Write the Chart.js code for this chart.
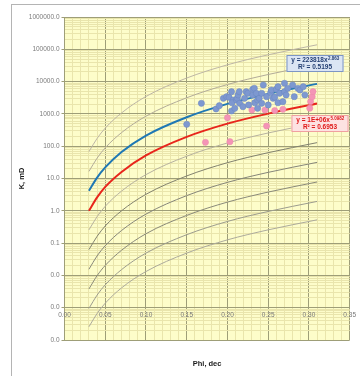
<!DOCTYPE html>
<html>
<head>
<meta charset="utf-8">
<script src="https://cdn.jsdelivr.net/npm/chart.js@4.4.1/dist/chart.umd.min.js"></script>
<style>
  body { margin: 0; background: #fff; }
  #wrap { position: relative; width: 360px; height: 376px; }
  #frame { position: absolute; left: 11px; top: 4px; width: 349px; height: 372px;
           border-left: 1px solid #b4b4b4; border-top: 1px solid #b4b4b4; pointer-events: none; }
</style>
</head>
<body>
<div id="wrap">
  <canvas id="kphi" width="360" height="376"></canvas>
  <div id="frame"></div>
</div>
<script>
// axis ticks
var kMajorTicks = [0.0001, 0.001, 0.01, 0.1, 1, 10, 100, 1000, 10000, 100000, 1000000];
var phiMajorTicks = [0, 0.05, 0.10, 0.15, 0.20, 0.25, 0.30, 0.35];

// curve family, read at these porosities
var phiCurve = [0.03, 0.04, 0.05, 0.07, 0.10, 0.15, 0.20, 0.25, 0.31];
var kCurveBlue = [4.2, 10.7, 22, 66, 214, 790, 2040, 4170, 8500];
var kCurveRed = [1.0, 2.6, 5.5, 16, 52, 195, 500, 1020, 2090];
var kCurveGray1 = [68, 174, 363, 1070, 3470, 12900, 33100, 67600, 138000];
var kCurveGray2 = [16.6, 42.7, 89, 263, 851, 3160, 8130, 16600, 33900];
var kCurveGray3 = [0.257, 0.66, 1.38, 4.07, 13.2, 49, 126, 257, 525];
var kCurveGray4 = [0.063, 0.162, 0.339, 1.0, 3.24, 12.0, 30.9, 63, 129];
var kCurveGray5 = [0.0155, 0.040, 0.083, 0.245, 0.79, 2.95, 7.6, 15.5, 31.6];
var kCurveGray6 = [0.0038, 0.0098, 0.0204, 0.060, 0.195, 0.72, 1.86, 3.8, 7.8];
var kCurveGray7 = [0.00095, 0.00245, 0.0051, 0.0151, 0.049, 0.182, 0.468, 0.955, 1.95];
var kCurveGray8 = [0.000257, 0.00066, 0.00138, 0.0041, 0.0132, 0.049, 0.126, 0.257, 0.525];

// samples
var phiBlue = [0.150, 0.168, 0.186, 0.190, 0.195, 0.199, 0.202, 0.205, 0.205, 0.207,
               0.2055, 0.209, 0.211, 0.212, 0.213, 0.2145, 0.215, 0.219, 0.221, 0.223,
               0.225, 0.226, 0.231, 0.231, 0.233, 0.2335, 0.2355, 0.237, 0.237, 0.239,
               0.242, 0.242, 0.244, 0.248, 0.250, 0.253, 0.254, 0.256, 0.258, 0.260,
               0.262, 0.262, 0.264, 0.268, 0.270, 0.272, 0.274, 0.280, 0.282, 0.2865,
               0.289, 0.293, 0.295, 0.270];
var kBlue = [476, 2130, 1420, 1800, 3040, 3410, 3270, 4860, 1230, 2690,
             2220, 1490, 2690, 3040, 3850, 4860, 2130, 1670, 3040, 4860,
             4350, 1890, 3850, 5780, 6210, 2220, 4350, 2690, 1490, 3040,
             4350, 2130, 7850, 3410, 1890, 4530, 5500, 3040, 3300, 5780,
             6950, 2220, 4350, 2390, 4860, 3850, 6210, 7850, 3410, 6210,
             5500, 6950, 3850, 8900];
var phiPink = [0.173, 0.203, 0.200, 0.230, 0.246, 0.258, 0.268, 0.248,
               0.301, 0.302, 0.304, 0.305];
var kPink = [132, 138, 762, 1320, 1320, 1270, 1390, 422,
             1500, 2400, 3400, 4900];

function pts(xs, ys) {
    return xs.map(function (x, i) { return {x: x, y: ys[i]}; });
}
function isDecade(v) {
    var l = Math.log10(v);
    return Math.abs(l - Math.round(l)) < 1e-6;
}
function isPhiMajor(v) {
    return Math.round(v * 100) % 5 === 0;
}

function curve(ys, color, width, order) {
    return {
        data: pts(phiCurve, ys),
        showLine: true,
        borderColor: color,
        borderWidth: width,
        pointRadius: 0,
        cubicInterpolationMode: 'monotone',
        order: order
    };
}

var plotBackground = {
    id: 'plotBackground',
    beforeDraw: function (chart) {
        var a = chart.chartArea, ctx = chart.ctx;
        ctx.save();
        ctx.fillStyle = '#fdfdca';
        ctx.fillRect(a.left, a.top, a.right - a.left, a.bottom - a.top);
        ctx.restore();
    }
};

function drawEq(ctx, left, top, w, h, base, sup, r2, fill, stroke, color) {
    ctx.save();
    ctx.fillStyle = fill;
    ctx.strokeStyle = stroke;
    ctx.lineWidth = 1;
    ctx.fillRect(left, top, w, h);
    ctx.strokeRect(left + 0.5, top + 0.5, w - 1, h - 1);
    ctx.fillStyle = color;
    ctx.textBaseline = 'middle';
    var big = 'bold 6.5px "Liberation Sans", Arial, sans-serif';
    var small = 'bold 4.5px "Liberation Sans", Arial, sans-serif';
    ctx.font = big;
    var wb = ctx.measureText(base).width;
    ctx.font = small;
    var ws = ctx.measureText(sup).width;
    var x0 = left + (w - wb - ws) / 2;
    ctx.font = big;
    ctx.textAlign = 'left';
    ctx.fillText(base, x0, top + 5.5);
    ctx.font = small;
    ctx.fillText(sup, x0 + wb + 0.5, top + 3.5);
    ctx.font = big;
    ctx.textAlign = 'center';
    ctx.fillText(r2, left + w / 2, top + 12.3);
    ctx.restore();
}

var equationBoxes = {
    id: 'equationBoxes',
    afterDatasetsDraw: function (chart) {
        var a = chart.chartArea, ctx = chart.ctx;
        drawEq(ctx, a.left + 222, a.top + 38, 57, 17, 'y = 223818x', '2.863', 'R\u00b2 = 0.5195',
               '#dbe5f4', '#7d96c4', '#243f73');
        drawEq(ctx, a.left + 227, a.top + 98, 57, 17, 'y = 1E+06x', '5.0982', 'R\u00b2 = 0.6953',
               '#fde2e2', '#f0a0a0', '#e01818');
    }
};

Chart.defaults.font.family = '"Liberation Sans", Arial, sans-serif';

new Chart(document.getElementById('kphi'), {
    type: 'scatter',
    data: {
        datasets: [
            {
                data: pts(phiBlue, kBlue),
                pointRadius: 3.1,
                backgroundColor: '#7d98d0',
                borderColor: '#6a86c0',
                borderWidth: 0.5,
                order: 0
            },
            {
                data: pts(phiPink, kPink),
                pointRadius: 3.1,
                backgroundColor: '#f494b6',
                borderColor: '#ec86aa',
                borderWidth: 0.5,
                order: 0
            },
            curve(kCurveBlue, '#1f78b4', 2, 1),
            curve(kCurveRed, '#e8261c', 2, 1),
            curve(kCurveGray1, '#bdb6a6', 1, 2),
            curve(kCurveGray2, '#b2ab99', 1, 2),
            curve(kCurveGray3, '#b6b19f', 1, 2),
            curve(kCurveGray4, '#82826f', 1, 2),
            curve(kCurveGray5, '#86867a', 1, 2),
            curve(kCurveGray6, '#8a8a7a', 1, 2),
            curve(kCurveGray7, '#9c9c8e', 1, 2),
            curve(kCurveGray8, '#acaa9c', 1, 2)
        ]
    },
    options: {
        responsive: false,
        animation: false,
        layout: { padding: { top: 17, right: 10, bottom: 0, left: 0 } },
        plugins: {
            legend: { display: false },
            tooltip: { enabled: false }
        },
        scales: {
            x: {
                type: 'linear',
                position: { y: 0.001 },
                min: 0,
                max: 0.35,
                afterBuildTicks: function (scale) {
                    var t = [];
                    for (var i = 0; i <= 35; i++) t.push({ value: i / 100 });
                    scale.ticks = t;
                },
                ticks: {
                    autoSkip: false,
                    maxRotation: 0,
                    padding: 4,
                    color: '#7a7a7a',
                    font: { size: 6.5 },
                    callback: function (v) {
                        return isPhiMajor(v) && phiMajorTicks.indexOf(Math.round(v * 100) / 100) >= 0 ? v.toFixed(2) : '';
                    }
                },
                grid: {
                    drawTicks: false,
                    color: function (c) { return isPhiMajor(c.tick.value) ? '#9e9e78' : '#e9e5ac'; }
                },
                border: { display: false }
            },
            xb: {
                type: 'linear',
                position: 'bottom',
                min: 0,
                max: 0.35,
                afterFit: function (scale) { scale.height = 36; },
                ticks: { display: false },
                grid: { display: false, drawTicks: false },
                border: { display: false },
                title: {
                    display: true,
                    text: 'Phi, dec',
                    color: '#1a1a1a',
                    font: { size: 7.5, weight: 'bold' },
                    padding: { top: 0, bottom: 8 }
                }
            },
            y: {
                type: 'logarithmic',
                position: 'left',
                min: 0.0001,
                max: 1000000,
                afterFit: function (scale) { scale.width = 64.5; },
                afterBuildTicks: function (scale) {
                    var t = [];
                    kMajorTicks.forEach(function (d, i) {
                        t.push({ value: d });
                        if (i < kMajorTicks.length - 1) {
                            for (var m = 2; m <= 9; m++) t.push({ value: Number((d * m).toPrecision(3)) });
                        }
                    });
                    scale.ticks = t;
                },
                ticks: {
                    autoSkip: false,
                    padding: 2,
                    color: '#7a7a7a',
                    font: { size: 6.5 },
                    callback: function (v) { return isDecade(v) ? Number(v).toFixed(1) : ''; }
                },
                grid: {
                    tickLength: 3,
                    color: function (c) { return isDecade(c.tick.value) ? '#9e9e78' : '#e9e5ac'; },
                    tickColor: function (c) { return isDecade(c.tick.value) ? '#9e9e78' : 'rgba(0,0,0,0)'; }
                },
                border: { display: false },
                title: {
                    display: true,
                    text: 'K, mD',
                    color: '#1a1a1a',
                    font: { size: 7.5, weight: 'bold' },
                    padding: { top: 17, bottom: 0 }
                }
            }
        }
    },
    plugins: [plotBackground, equationBoxes]
});
</script>
</body>
</html>
